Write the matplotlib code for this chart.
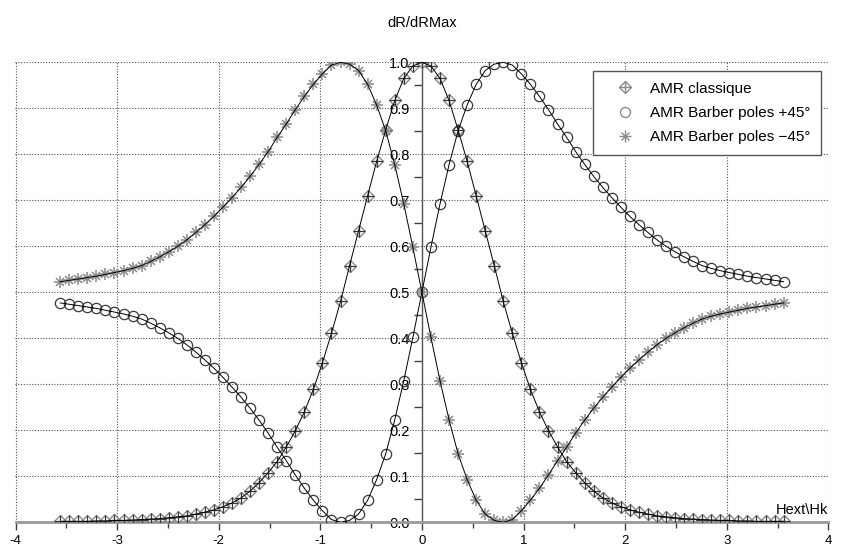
# amr.py
#   reponse AMR classique / barber poles en fonction de Hext/Hk

# imports
import numpy as np
import matplotlib.pyplot as plt
from matplotlib.lines import Line2D
from matplotlib.ticker import MultipleLocator, FormatStrFormatter

plt.rcParams['font.family'] = ['Liberation Sans', 'DejaVu Sans']
plt.rcParams['axes.unicode_minus'] = False

# data (81 samples of Hext/Hk)
h = np.linspace(-3.56, 3.56, 81)

classique = [0.002, 0.002, 0.002, 0.002, 0.003, 0.003, 0.004, 0.004, 0.005, 0.006,
             0.007, 0.008, 0.010, 0.012, 0.014, 0.018, 0.022, 0.027, 0.034, 0.042,
             0.053, 0.068, 0.086, 0.108, 0.132, 0.164, 0.199, 0.240, 0.289, 0.347,
             0.411, 0.480, 0.558, 0.634, 0.710, 0.785, 0.853, 0.917, 0.965, 0.992,
             1.000,
             0.992, 0.965, 0.917, 0.853, 0.785, 0.710, 0.634, 0.558, 0.480, 0.411,
             0.347, 0.289, 0.240, 0.199, 0.164, 0.132, 0.108, 0.086, 0.068, 0.053,
             0.042, 0.034, 0.027, 0.022, 0.018, 0.014, 0.012, 0.010, 0.008, 0.007,
             0.006, 0.005, 0.004, 0.004, 0.003, 0.003, 0.002, 0.002, 0.002, 0.002]

barber_plus = [0.477, 0.474, 0.471, 0.468, 0.465, 0.461, 0.457, 0.453, 0.448, 0.442,
               0.433, 0.423, 0.412, 0.400, 0.386, 0.370, 0.353, 0.335, 0.315, 0.294,
               0.272, 0.248, 0.222, 0.194, 0.163, 0.134, 0.103, 0.074, 0.048, 0.025,
               0.006, 0.000, 0.004, 0.018, 0.048, 0.093, 0.149, 0.223, 0.308, 0.402,
               0.500,
               0.598, 0.692, 0.777, 0.851, 0.907, 0.952, 0.982, 0.996, 1.000, 0.994,
               0.975, 0.952, 0.926, 0.897, 0.866, 0.837, 0.806, 0.778, 0.752, 0.728,
               0.706, 0.685, 0.665, 0.647, 0.630, 0.614, 0.600, 0.588, 0.577, 0.567,
               0.558, 0.552, 0.547, 0.543, 0.539, 0.535, 0.532, 0.529, 0.526, 0.523]

barber_minus = [0.523, 0.526, 0.529, 0.532, 0.535, 0.539, 0.543, 0.547, 0.552, 0.558,
                0.567, 0.577, 0.588, 0.600, 0.614, 0.630, 0.647, 0.665, 0.685, 0.706,
                0.728, 0.752, 0.778, 0.806, 0.837, 0.866, 0.897, 0.926, 0.952, 0.975,
                0.994, 1.000, 0.996, 0.982, 0.952, 0.907, 0.851, 0.777, 0.692, 0.598,
                0.500,
                0.402, 0.308, 0.223, 0.149, 0.093, 0.048, 0.018, 0.004, 0.000, 0.006,
                0.025, 0.048, 0.074, 0.103, 0.134, 0.163, 0.194, 0.222, 0.248, 0.272,
                0.294, 0.315, 0.335, 0.353, 0.370, 0.386, 0.400, 0.412, 0.423, 0.433,
                0.442, 0.448, 0.453, 0.457, 0.461, 0.465, 0.468, 0.471, 0.474, 0.477]

labels = ['AMR classique', 'AMR Barber poles +45°', 'AMR Barber poles \u221245°']

mgray = '#8a8a8a'
dgray = '#3a3a3a'

# figure
fig = plt.figure(figsize=(8.44, 5.51), dpi=100)
ax = fig.add_axes([15.5 / 844, 1 - 522.3 / 551, 812.8 / 844, 460 / 551])
ax.set_xlim(-4, 4)
ax.set_ylim(0, 1)

# axes: x at bottom, y through 0
for side in ['top', 'right']:
    ax.spines[side].set_visible(False)
ax.spines['left'].set_position(('data', 0))
ax.spines['left'].set_color('#555555')
ax.spines['left'].set_linewidth(1)
ax.spines['bottom'].set_color('#999999')
ax.spines['bottom'].set_linewidth(2)

ax.xaxis.set_major_locator(MultipleLocator(1))
ax.xaxis.set_minor_locator(MultipleLocator(0.5))
ax.yaxis.set_major_locator(MultipleLocator(0.1))
ax.yaxis.set_minor_locator(MultipleLocator(0.05))
ax.yaxis.set_major_formatter(FormatStrFormatter('%.1f'))

ax.tick_params(axis='x', which='major', direction='out', length=5.8, width=1,
               color='#404040', labelsize=9.5, pad=3.5)
ax.tick_params(axis='x', which='minor', direction='out', length=4, width=1, color='#404040')
ax.tick_params(axis='y', which='major', direction='out', length=0, labelsize=10.5, pad=9)
ax.tick_params(axis='y', which='minor', direction='out', length=6, width=1, color='#404040')

ax.grid(True, which='major', linestyle=(0, (1, 1.5)), color='#555555', linewidth=0.8)
ax.set_axisbelow(True)

# curves
ax.plot(h, classique, ls='none', marker='D', ms=6.2, mfc='none', mec=mgray, mew=1, zorder=3)
ax.plot(h, classique, ls='none', marker='+', ms=8, mec=dgray, mew=0.9, zorder=3)
ax.plot(h, barber_plus, ls='none', marker='o', ms=7.4, mfc='none', mec=dgray, mew=0.9, zorder=3)
ax.plot(h, barber_minus, ls='none', marker='+', ms=8.8, mec=mgray, mew=1.1, zorder=3)
ax.plot(h, barber_minus, ls='none', marker='x', ms=6.2, mec=mgray, mew=1.1, zorder=3)
for y in [classique, barber_plus, barber_minus]:
    ax.plot(h, y, color='black', lw=0.7, zorder=4)

# texts
fig.text(0.5, 1 - 23 / 551, 'dR/dRMax', ha='center', va='center', fontsize=10.5)
ax.text(4, 0.011, 'Hext\\Hk', ha='right', va='bottom', fontsize=10.5)

# legend
handles = [
    (Line2D([], [], ls='none', marker='D', ms=6.2, mfc='none', mec=mgray, mew=1),
     Line2D([], [], ls='none', marker='+', ms=8, mec=mgray, mew=1)),
    Line2D([], [], ls='none', marker='o', ms=7.2, mfc='none', mec=mgray, mew=1),
    (Line2D([], [], ls='none', marker='+', ms=8.6, mec=mgray, mew=1),
     Line2D([], [], ls='none', marker='x', ms=6.1, mec=mgray, mew=1)),
]
leg = ax.legend(handles, labels, loc='upper left', bbox_to_anchor=(593 / 844, 1 - 71 / 551),
                bbox_transform=fig.transFigure, borderaxespad=0, fontsize=11, fancybox=False,
                framealpha=1, edgecolor='#555555', borderpad=0.7, handlelength=2.8,
                handletextpad=0.2, labelspacing=0.68)
leg.get_frame().set_linewidth(1)

fig.savefig('out.png', dpi=100)
